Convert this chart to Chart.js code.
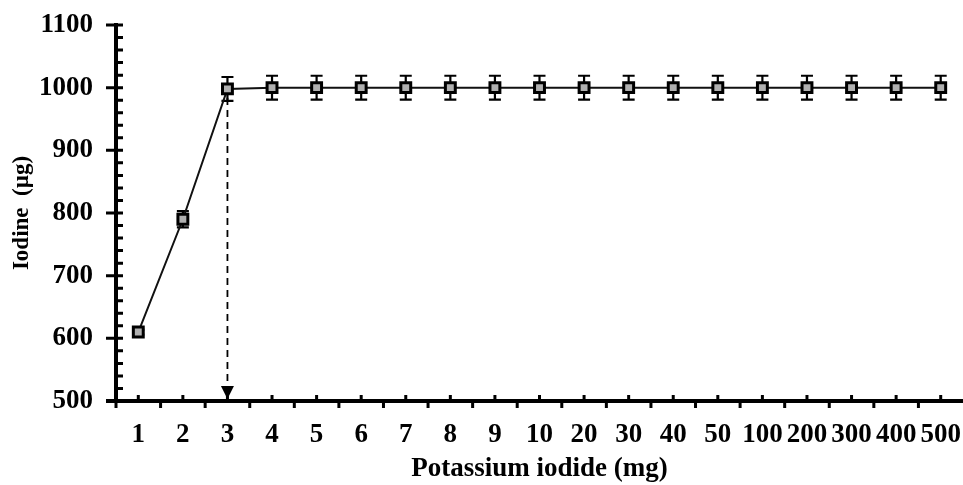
<!DOCTYPE html>
<html>
<head>
<meta charset="utf-8">
<script src="https://cdn.jsdelivr.net/npm/chart.js@4.4.1/dist/chart.umd.min.js"></script>
<style>
  html, body { margin: 0; padding: 0; background: #fff; }
  #wrap { width: 963px; height: 485px; }
</style>
</head>
<body>
<div id="wrap"><canvas id="chart" width="963" height="485"></canvas></div>
<script>
// Datos del gráfico
const doses = ['1', '2', '3', '4', '5', '6', '7', '8', '9', '10', '20', '30', '40', '50', '100', '200', '300', '400', '500'];
const iodine = [610, 790, 998, 1000, 1000, 1000, 1000, 1000, 1000, 1000, 1000, 1000, 1000, 1000, 1000, 1000, 1000, 1000, 1000];
const errors = [4, 13, 19, 19, 19, 19, 19, 19, 19, 19, 19, 19, 19, 19, 19, 19, 19, 19, 19];
const yTicks = [500, 600, 700, 800, 900, 1000, 1100];
const arrowIndex = 2; // punto donde se alcanza la meseta

const serif = '"Liberation Serif", "Times New Roman", serif';

// Ejes, barras de error y flecha punteada
const extrasPlugin = {
    id: 'extras',
    beforeDatasetsDraw(chart) {
        const { ctx, chartArea, scales: { x, y } } = chart;
        ctx.save();
        ctx.strokeStyle = '#000';
        ctx.fillStyle = '#000';

        // barras de error
        ctx.lineWidth = 2.2;
        iodine.forEach((v, i) => {
            const px = x.getPixelForValue(i);
            const top = y.getPixelForValue(v + errors[i]);
            const bot = y.getPixelForValue(v - errors[i]);
            ctx.beginPath();
            ctx.moveTo(px, top); ctx.lineTo(px, bot);
            ctx.moveTo(px - 6, top); ctx.lineTo(px + 6, top);
            ctx.moveTo(px - 6, bot); ctx.lineTo(px + 6, bot);
            ctx.stroke();
        });

        // línea punteada con flecha
        const ax = x.getPixelForValue(arrowIndex);
        const ay0 = y.getPixelForValue(iodine[arrowIndex]) + 9;
        const ay1 = y.getPixelForValue(y.min);
        ctx.setLineDash([7, 5]);
        ctx.lineWidth = 1.8;
        ctx.beginPath();
        ctx.moveTo(ax, ay0); ctx.lineTo(ax, ay1 - 12);
        ctx.stroke();
        ctx.setLineDash([]);
        ctx.beginPath();
        ctx.moveTo(ax - 6.5, ay1 - 15);
        ctx.lineTo(ax + 6.5, ay1 - 15);
        ctx.lineTo(ax, ay1 - 2);
        ctx.closePath();
        ctx.fill();

        // ejes
        ctx.lineWidth = 4;
        ctx.beginPath();
        ctx.moveTo(chartArea.left, chartArea.top - 2);
        ctx.lineTo(chartArea.left, chartArea.bottom + 2);
        ctx.moveTo(chartArea.left - 10, chartArea.bottom);
        ctx.lineTo(chartArea.right + 2, chartArea.bottom);
        ctx.stroke();

        // marcas del eje y
        ctx.lineWidth = 3;
        ctx.beginPath();
        for (let v = y.min; v <= y.max; v += 20) {
            const py = y.getPixelForValue(v);
            if (v % 100 === 0) {
                ctx.moveTo(chartArea.left - 10, py);
            } else {
                ctx.moveTo(chartArea.left, py);
            }
            ctx.lineTo(chartArea.left + 7, py);
        }
        ctx.stroke();

        // marcas del eje x
        ctx.beginPath();
        const half = (x.getPixelForValue(1) - x.getPixelForValue(0)) / 2;
        doses.forEach((d, i) => {
            const px = x.getPixelForValue(i);
            ctx.moveTo(px, chartArea.bottom); ctx.lineTo(px, chartArea.bottom - 6);
            ctx.moveTo(px - half, chartArea.bottom); ctx.lineTo(px - half, chartArea.bottom + 7);
        });
        ctx.stroke();
        ctx.restore();
    }
};

const ctx = document.getElementById('chart').getContext('2d');
const chart = new Chart(ctx, {
    type: 'line',
    data: {
        labels: doses,
        datasets: [{
            data: iodine,
            borderColor: '#111',
            borderWidth: 2,
            pointStyle: 'rect',
            pointRadius: 7,
            pointBorderWidth: 3,
            pointBackgroundColor: '#b0b0b0',
            pointBorderColor: '#000',
            tension: 0,
            clip: false,
        }],
    },
    options: {
        responsive: false,
        animation: false,
        layout: { autoPadding: false, padding: { top: 25, right: -2, left: 0, bottom: 0 } },
        plugins: {
            legend: { display: false },
            tooltip: { enabled: false },
        },
        scales: {
            x: {
                type: 'category',
                offset: true,
                grid: { display: false, drawTicks: false },
                border: { display: false },
                ticks: {
                    color: '#000',
                    padding: 18,
                    maxRotation: 0,
                    autoSkip: false,
                    font: { family: serif, size: 27, weight: 'bold' },
                },
                title: {
                    display: true,
                    text: 'Potassium iodide (mg)',
                    color: '#000',
                    padding: { top: 2, bottom: 0 },
                    font: { family: serif, size: 27, weight: 'bold' },
                },
                afterFit(scale) {
                    scale.height = 84;
                    scale.paddingLeft = 0;
                    scale.paddingRight = 0;
                },
            },
            y: {
                min: 500,
                max: 1100,
                grid: { display: false, drawTicks: false },
                border: { display: false },
                afterBuildTicks(scale) { scale.ticks = yTicks.map(v => ({ value: v })); },
                ticks: {
                    color: '#000',
                    padding: 23,
                    font: { family: serif, size: 27, weight: 'bold' },
                    callback: (value) => String(value),
                },
                title: {
                    display: true,
                    text: 'Iodine  (µg)',
                    color: '#000',
                    padding: { top: 8, bottom: 0 },
                    font: { family: serif, size: 23, weight: 'bold' },
                },
                afterFit(scale) {
                    scale.width = 116;
                    scale.paddingTop = 0;
                    scale.paddingBottom = 0;
                },
            },
        },
    },
    plugins: [extrasPlugin],
});
</script>
</body>
</html>
